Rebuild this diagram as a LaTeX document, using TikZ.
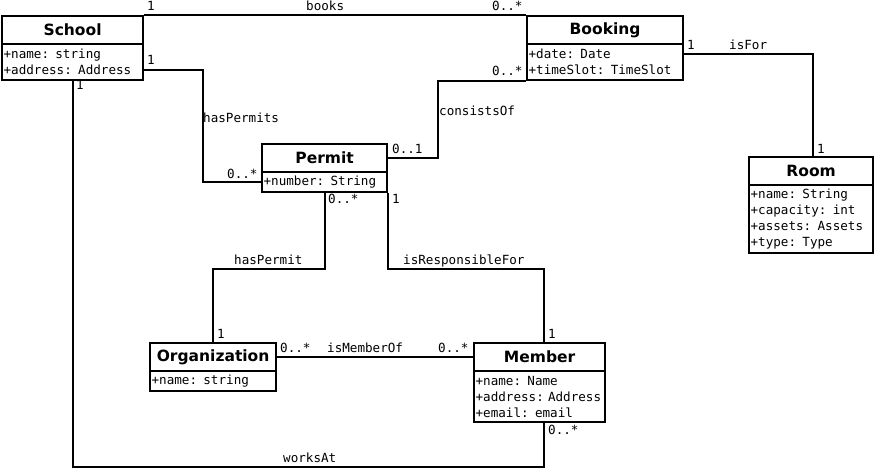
\documentclass[tikz,border=0pt]{standalone}
\usepackage{fontspec}
\setmainfont{DejaVu Sans}
\setmonofont{DejaVu Sans Mono}
\begin{document}
\begin{tikzpicture}[x=1pt,y=-1pt,
  cls/.style={draw, fill=white, line width=2.2pt, anchor=north west, inner sep=0pt, font=\bfseries\fontsize{15.5}{18}\selectfont},
  attrs/.style={draw, fill=white, line width=2.2pt, anchor=north west, inner xsep=1.5pt, inner ysep=0pt, align=left, font=\ttfamily\fontsize{12.6}{16}\selectfont},
  lbl/.style={anchor=base west, inner sep=0pt, font=\ttfamily\fontsize{12.6}{16}\selectfont},
  conn/.style={line width=2.2pt}]
\useasboundingbox (0,0) rectangle (877,468);

% classes
\node[cls, minimum width=141pt, minimum height=28pt] (school) at (1,15) {School};
\node[attrs, text width=138pt, minimum height=36pt] (schoolA) at (1,43) {+name: string\\+address: Address};

\node[cls, minimum width=156pt, minimum height=28pt] (booking) at (526,15) {Booking};
\node[attrs, text width=153pt, minimum height=36pt] (bookingA) at (526,43) {+date: Date\\+timeSlot: TimeSlot};

\node[cls, minimum width=124pt, minimum height=28pt] (room) at (748,156) {Room};
\node[attrs, text width=121pt, minimum height=68pt] (roomA) at (748,184) {+name: String\\+capacity: int\\+assets: Assets\\+type: Type};

\node[cls, minimum width=125pt, minimum height=28pt] (permit) at (261,143) {Permit};
\node[attrs, text width=122pt, minimum height=20pt] (permitA) at (261,171) {+number: String};

\node[cls, minimum width=126pt, minimum height=28pt] (org) at (149,342) {Organization};
\node[attrs, text width=123pt, minimum height=20pt] (orgA) at (149,370) {+name: string};

\node[cls, minimum width=131pt, minimum height=28pt] (member) at (473,342) {Member};
\node[attrs, text width=128pt, minimum height=51pt] (memberA) at (473,370) {+name: Name\\+address:~Address\\+email: email};

% connectors
\draw[conn] (school.north east) -- (booking.north west);
\draw[conn] ([yshift=-8pt]schoolA.east) -- ++(59,0) |- (permitA.west);
\draw[conn] (permit.east) -- ++(50,0) |- (bookingA.south west);
\draw[conn] ([yshift=8pt]bookingA.east) -| ([xshift=2pt]room.north);
\draw[conn] (permitA.south) -- ++(0,76) -| (org.north);
\draw[conn] (permitA.south east) -- ++(0,76) -| ([xshift=4pt]member.north);
\draw[conn] (org.east) -- (member.west);
\draw[conn] (schoolA.south) -- ++(0,386) -| ([xshift=4pt]memberA.south);

% labels
\node[lbl] (l1) at (147,11) {1};
\node[lbl] (l2) at (306,11) {books};
\node[lbl] (l3) at (492,11) {0..*};
\node[lbl] (l4) at (147,65) {1};
\node[lbl] (l5) at (203,122) {hasPermits};
\node[lbl] (l6) at (227,178) {0..*};
\node[lbl] (l7) at (392,153) {0..1};
\node[lbl] (l8) at (439,115) {consistsOf};
\node[lbl] (l9) at (492,76) {0..*};
\node[lbl] (l10) at (687,50) {1};
\node[lbl] (l11) at (729,50) {isFor};
\node[lbl] (l12) at (817,153) {1};
\node[lbl] (l13) at (328,203) {0..*};
\node[lbl] (l14) at (392,203) {1};
\node[lbl] (l15) at (234,264) {hasPermit};
\node[lbl] (l16) at (403,264) {isResponsibleFor};
\node[lbl] (l17) at (217,338) {1};
\node[lbl] (l18) at (548,338) {1};
\node[lbl] (l19) at (280,352) {0..*};
\node[lbl] (l20) at (327,352) {isMemberOf};
\node[lbl] (l21) at (438,352) {0..*};
\node[lbl] (l22) at (76,90) {1};
\node[lbl] (l23) at (548,434) {0..*};
\node[lbl] (l24) at (283,462) {worksAt};
\end{tikzpicture}
\end{document}
